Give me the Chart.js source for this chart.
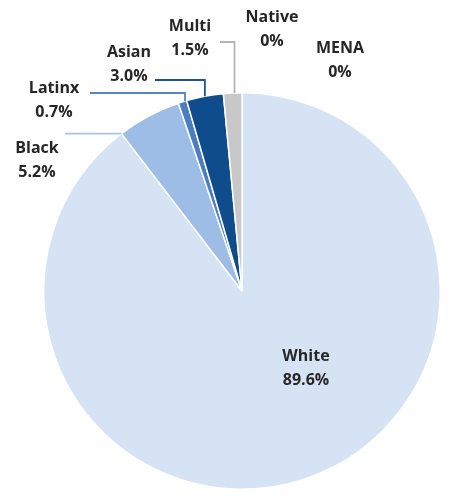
<!DOCTYPE html>
<html>
<head>
<meta charset="utf-8">
<script src="https://cdn.jsdelivr.net/npm/chart.js@4"></script>
<style>
  html, body { margin: 0; padding: 0; background: #fff; }
  #wrap { width: 454px; height: 501px; position: relative; }
</style>
</head>
<body>
<div id="wrap"><canvas id="pieChart" width="454" height="501"></canvas></div>
<script>
// data
const categories = ["White", "Black", "Latinx", "Asian", "Multi", "Native", "MENA"];
const shares = [89.6, 5.2, 0.7, 3.0, 1.5, 0, 0];
const shareLabels = ["89.6%", "5.2%", "0.7%", "3.0%", "1.5%", "0%", "0%"];

const sliceColors = ["#d6e3f4", "#9dbde6", "#4a7ec0", "#0f4c8c", "#c8c8c8", "#c8c8c8", "#c8c8c8"];
const lineColors = [null, "#a9c4e8", "#5585c4", "#1d5394", "#b4b4b4", null, null];

// where each label sits (centre of text), and how its leader line runs
const labelPos = [
    { x: 306, y: 356 },
    { x: 37, y: 148 },
    { x: 54, y: 88 },
    { x: 129, y: 52 },
    { x: 190, y: 26 },
    { x: 272, y: 17 },
    { x: 340, y: 48 }
];
// leader: start x, y of horizontal run (null = same height as anchor), anchor along arc (0 start .. 1 end)
const leaders = [
    null,
    { x0: 65, y: null, t: 0 },
    { x0: 90, y: 93, t: 0.8 },
    { x0: 155, y: 80, t: 0.5 },
    { x0: 220, y: 42, t: 0.6 },
    null,
    null
];

const labelPlugin = {
    id: "sliceLabels",
    afterDatasetsDraw(chart) {
        const ctx = chart.ctx;
        const arcs = chart.getDatasetMeta(0).data;
        ctx.save();
        arcs.forEach((arc, i) => {
            const ld = leaders[i];
            if (!ld) return;
            const p = arc.getProps(["x", "y", "startAngle", "endAngle", "outerRadius"], true);
            const a = p.startAngle + (p.endAngle - p.startAngle) * ld.t;
            const px = p.x + Math.cos(a) * p.outerRadius;
            const py = p.y + Math.sin(a) * p.outerRadius;
            const ly = ld.y === null ? py : ld.y;
            ctx.strokeStyle = lineColors[i];
            ctx.lineWidth = 1.8;
            ctx.beginPath();
            ctx.moveTo(ld.x0, ly);
            ctx.lineTo(px, ly);
            if (ly !== py) ctx.lineTo(px, py);
            ctx.stroke();
        });
        ctx.fillStyle = "#262626";
        ctx.textAlign = "center";
        ctx.textBaseline = "middle";
        ctx.font = "bold 16px 'Open Sans'";
        categories.forEach((c, i) => {
            const lp = labelPos[i];
            ctx.fillText(c, lp.x, lp.y);
            ctx.fillText(shareLabels[i], lp.x, lp.y + 24);
        });
        ctx.restore();
    }
};

new Chart(document.getElementById("pieChart"), {
    type: "pie",
    data: {
        labels: categories,
        datasets: [{
            data: shares,
            backgroundColor: sliceColors,
            borderColor: "#ffffff",
            borderWidth: shares.map(v => v > 0 ? 1.5 : 0),
            hoverOffset: 0
        }]
    },
    options: {
        responsive: false,
        animation: false,
        layout: { padding: { top: 90, bottom: 9, left: 43, right: 13 } },
        plugins: {
            legend: { display: false },
            tooltip: { enabled: false }
        }
    },
    plugins: [labelPlugin]
});
</script>
</body>
</html>
